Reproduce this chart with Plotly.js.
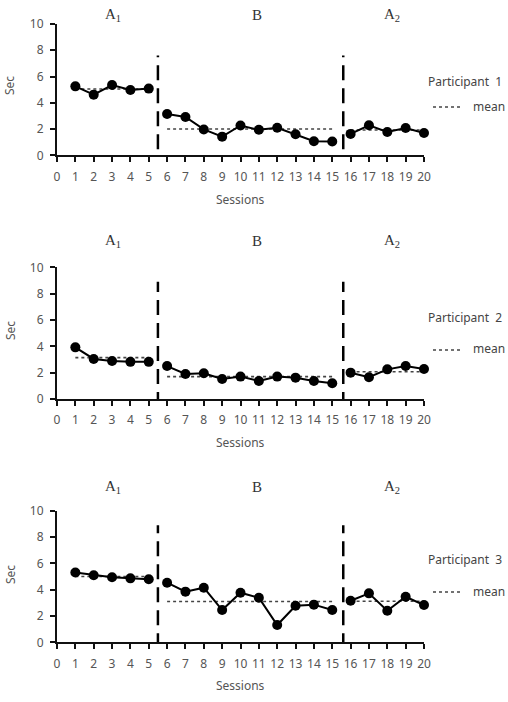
<!DOCTYPE html>
<html>
<head>
<meta charset="utf-8">
<script src="https://cdn.plot.ly/plotly-3.0.1.min.js"></script>
<style>
  html, body { margin: 0; padding: 0; background: #fff; }
  #chart { width: 508px; height: 702px; }
</style>
</head>
<body>
<div id="chart"></div>
<script>
// Session numbers per phase
const sessionsA1 = [1, 2, 3, 4, 5];
const sessionsB  = [6, 7, 8, 9, 10, 11, 12, 13, 14, 15];
const sessionsA2 = [16, 17, 18, 19, 20];
const xTicks = [0,1,2,3,4,5,6,7,8,9,10,11,12,13,14,15,16,17,18,19,20];
const yTicks = [0, 2, 4, 6, 8, 10];

// Participant 1 (seconds)
const p1A1 = [5.25, 4.62, 5.35, 4.97, 5.08];
const p1B  = [3.15, 2.92, 1.97, 1.42, 2.27, 1.94, 2.1, 1.6, 1.07, 1.05];
const p1A2 = [1.63, 2.29, 1.78, 2.08, 1.7];
const p1Mean = [5.05, 2.0, 1.93];

// Participant 2 (seconds)
const p2A1 = [3.92, 3.04, 2.88, 2.82, 2.82];
const p2B  = [2.5, 1.9, 1.95, 1.52, 1.7, 1.37, 1.7, 1.62, 1.37, 1.2];
const p2A2 = [2.0, 1.65, 2.25, 2.5, 2.28];
const p2Mean = [3.14, 1.7, 2.07];

// Participant 3 (seconds)
const p3A1 = [5.3, 5.1, 4.94, 4.86, 4.79];
const p3B  = [4.53, 3.85, 4.15, 2.45, 3.77, 3.39, 1.31, 2.78, 2.86, 2.45];
const p3A2 = [3.16, 3.72, 2.4, 3.46, 2.83];
const p3Mean = [5.0, 3.1, 3.12];

const phaseNames = ['A<sub>1</sub>', 'B', 'A<sub>2</sub>'];
const participantNames = ['Participant\u00a0\u00a01', 'Participant\u00a0\u00a02', 'Participant\u00a0\u00a03'];
const phaseChanges = [5.5, 15.6];

const W = 508, H = 702;
const px = x => x / W;
const py = y => 1 - y / H;

// Pixel layout of each panel (top/bottom of plot area, label rows)
const panels = [
  { top: 24,    bottom: 155.3, data: [p1A1, p1B, p1A2], mean: p1Mean, phaseY: 15,  partY: 81,  meanY: 106, sessY: 199, secY: 86,  cut: [-1.3, 7.6] },
  { top: 267.3, bottom: 399,   data: [p2A1, p2B, p2A2], mean: p2Mean, phaseY: 241, partY: 317, meanY: 349, sessY: 442, secY: 331, cut: [-0.6, 8.9] },
  { top: 510.7, bottom: 642.3, data: [p3A1, p3B, p3A2], mean: p3Mean, phaseY: 487, partY: 559, meanY: 591, sessY: 685, secY: 575, cut: [-0.45, 8.9] }
];
const phaseX = [sessionsA1, sessionsB, sessionsA2];

const sans = 'Noto Sans, DejaVu Sans, sans-serif';
const tickFont = { family: sans, size: 12, color: '#555' };
const traces = [];
const annotations = [];
const shapes = [];
const layout = {
  width: W, height: H,
  margin: { l: 0, r: 0, t: 0, b: 0 },
  paper_bgcolor: '#fff', plot_bgcolor: '#fff',
  showlegend: false,
  annotations: annotations,
  shapes: shapes
};

function label(x, y, text, font, extra) {
  annotations.push(Object.assign({
    xref: 'paper', yref: 'paper', x: px(x), y: py(y),
    xanchor: 'center', yanchor: 'middle',
    text: text, showarrow: false, font: font
  }, extra || {}));
}

panels.forEach((p, i) => {
  const n = i === 0 ? '' : String(i + 1);
  const xa = 'x' + n, ya = 'y' + n;

  layout['xaxis' + n] = {
    domain: [px(57), px(424)], anchor: ya, range: [0, 20],
    tickmode: 'array', tickvals: xTicks, ticktext: xTicks.map(String),
    ticks: 'outside', ticklen: 5, tickwidth: 2, tickcolor: '#111',
    ticklabelstandoff: 4,
    showline: true, linecolor: '#111', linewidth: 2,
    showgrid: false, zeroline: false, tickfont: tickFont, fixedrange: true
  };
  layout['yaxis' + n] = {
    domain: [py(p.bottom), py(p.top)], anchor: xa, range: [0, 10],
    tickmode: 'array', tickvals: yTicks, ticktext: yTicks.map(String),
    ticks: 'outside', ticklen: 5, tickwidth: 2, tickcolor: '#111',
    ticklabelstandoff: 4,
    showline: true, linecolor: '#111', linewidth: 2,
    showgrid: false, zeroline: false, tickfont: tickFont, fixedrange: true
  };

  // dotted phase means
  phaseX.forEach((xs, k) => {
    traces.push({
      x: [xs[0], xs[xs.length - 1]], y: [p.mean[k], p.mean[k]],
      xaxis: xa, yaxis: ya, mode: 'lines', hoverinfo: 'skip',
      line: { color: '#444', width: 1.6, dash: 'dot' }
    });
  });

  // session data, one segment per phase
  phaseX.forEach((xs, k) => {
    traces.push({
      x: xs, y: p.data[k], xaxis: xa, yaxis: ya,
      mode: 'lines+markers', cliponaxis: false,
      line: { color: '#000', width: 2 },
      marker: { color: '#000', size: 10, symbol: 'circle' }
    });
  });

  // dashed phase-change lines
  phaseChanges.forEach(c => {
    traces.push({
      x: [c, c], y: p.cut, xaxis: xa, yaxis: ya,
      mode: 'lines', cliponaxis: false, hoverinfo: 'skip',
      line: { color: '#000', width: 2.5, dash: '15px,8px' }
    });
  });

  // phase headings
  [113, 257, 392].forEach((x, k) => {
    label(x, p.phaseY, phaseNames[k],
      { family: 'Liberation Serif, Times New Roman, serif', size: 15, color: '#333' });
  });

  // axis titles
  label(240, p.sessY, 'Sessions', { family: sans, size: 12, color: '#555' });
  label(10, p.secY, 'Sec', { family: sans, size: 12, color: '#555' }, { textangle: -90 });

  // participant label and mean key
  label(504, p.partY, participantNames[i], { family: sans, size: 12, color: '#444' }, { xanchor: 'right' });
  label(471, p.meanY, 'mean', { family: sans, size: 12, color: '#444' }, { xanchor: 'left' });
  shapes.push({
    type: 'line', xref: 'paper', yref: 'paper',
    x0: px(433), x1: px(460), y0: py(p.meanY + 1), y1: py(p.meanY + 1),
    line: { color: '#444', width: 1.6, dash: 'dot' }
  });
});

Plotly.newPlot('chart', traces, layout, { staticPlot: true, displayModeBar: false });
</script>
</body>
</html>
